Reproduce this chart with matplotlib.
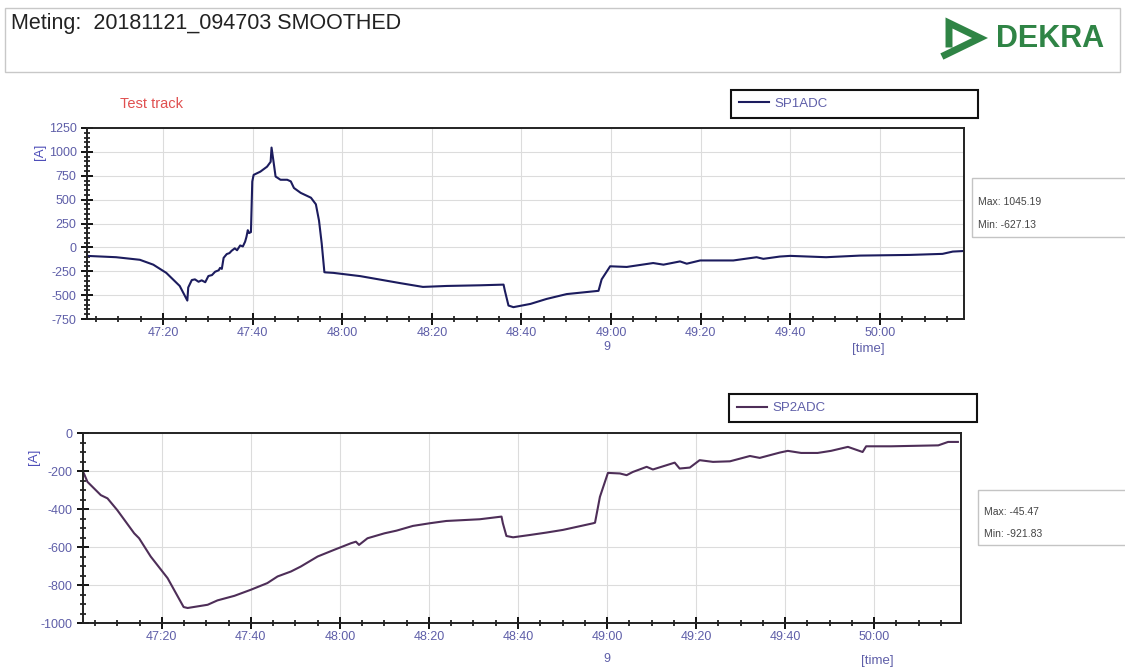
import matplotlib
matplotlib.use("Agg")
import matplotlib.pyplot as plt
from matplotlib.patches import Rectangle
from matplotlib.lines import Line2D
from matplotlib.ticker import MultipleLocator, FuncFormatter

plt.rcParams['font.family'] = ['Liberation Sans', 'DejaVu Sans']
plt.rcParams['axes.unicode_minus'] = False

# time in seconds after 47:00
t_sp1 = [2.9, 9.5, 14.8, 17.8, 20.7, 23.7, 25.4, 25.6, 26.4, 27.1,
         27.9, 28.6, 29.4, 30.1, 30.9, 31.6, 32.4, 32.7, 33.1, 33.5,
         34.2, 34.8, 35.3, 36.0, 36.5, 37.2, 37.8, 38.3, 38.6, 38.9,
         39.2, 39.6, 39.9, 40.2, 41.7, 43.2, 44.0, 44.2, 44.6, 45.1,
         46.2, 47.7, 48.5, 49.2, 50.7, 53.0, 54.1, 54.8, 55.4, 56.0,
         56.3, 58.0, 64.0, 73.0, 78.0, 83.3, 90.8, 96.0, 96.3, 97.1,
         98.2, 102.0, 105.6, 110.1, 117.2, 117.9, 119.8, 123.5, 129.4, 131.7,
         135.4, 136.9, 139.9, 147.3, 152.5, 154.0, 157.7, 160.0, 168.0, 175.6,
         186.7, 194.0, 196.3, 198.8]
sp1 = [-89, -103, -130, -181, -267, -404, -557, -420, -342, -335,
       -360, -345, -365, -300, -290, -255, -240, -215, -225, -110,
       -70, -60, -35, -10, -30, 20, 10, 60, 110, 180,
       150, 160, 690, 759, 793, 845, 896, 1045, 913, 742,
       708, 708, 691, 622, 571, 520, 451, 280, 41, -260,
       -262, -267, -301, -375, -414, -404, -397, -390, -455, -609,
       -626, -592, -540, -489, -455, -335, -198, -205, -164, -181,
       -147, -171, -137, -137, -103, -120, -96, -89, -103, -86,
       -79, -68, -44, -38]

t_sp2 = [2.5, 3.3, 6.3, 7.8, 10.0, 13.8, 14.9, 17.5, 21.3, 24.9,
         25.8, 30.3, 32.5, 36.3, 40.0, 43.7, 46.0, 49.0, 51.2, 55.0,
         58.7, 62.5, 63.6, 64.3, 66.2, 70.0, 72.7, 76.4, 80.2, 83.9,
         91.4, 96.3, 96.6, 97.4, 98.9, 102.6, 106.4, 110.1, 116.9, 117.3,
         118.4, 120.2, 122.9, 124.4, 125.8, 128.9, 130.3, 133.3, 135.2, 136.3,
         138.6, 140.8, 143.8, 147.6, 152.1, 154.3, 158.8, 160.6, 163.6, 167.3,
         170.3, 174.1, 176.3, 177.4, 178.2, 183.8, 194.4, 196.6, 198.8]
sp2 = [-213, -257, -327, -344, -406, -528, -554, -650, -764, -916,
       -921, -904, -881, -857, -825, -790, -755, -729, -703, -650,
       -615, -580, -572, -589, -554, -528, -514, -489, -475, -463,
       -454, -440, -475, -542, -549, -537, -524, -510, -475, -472,
       -336, -210, -213, -222, -205, -178, -192, -170, -156, -187,
       -182, -143, -152, -149, -121, -131, -103, -94, -105, -105,
       -94, -73, -91, -100, -70, -70, -65, -47, -47]

y1_range = (-750, 1250)
y2_range = (-1000, 0)
stats1 = ("Max: 1045.19", "Min: -627.13")
stats2 = ("Max: -45.47", "Min: -921.83")

W, H = 1125, 670
T0 = 47 * 60
LABEL_COLOR = '#5e5ea8'


def fx(x):
    return x / W


def fy(y):
    return 1 - y / H


def mmss(v, pos=None):
    v = int(round(v))
    return f"{v // 60}:{v % 60:02d}"


def style_axes(ax, xlim, ylim, ymajor):
    ax.set_xlim(*xlim)
    ax.set_ylim(*ylim)
    ax.xaxis.set_major_locator(MultipleLocator(20))
    ax.xaxis.set_minor_locator(MultipleLocator(5))
    ax.xaxis.set_major_formatter(FuncFormatter(mmss))
    ax.yaxis.set_major_locator(MultipleLocator(ymajor))
    ax.yaxis.set_minor_locator(MultipleLocator(50))
    ax.grid(True, which='major', color='#dcdcdc', linewidth=0.8)
    ax.tick_params(which='major', direction='inout', length=9, width=1.3,
                   labelsize=9, labelcolor=LABEL_COLOR, pad=3)
    ax.tick_params(which='minor', direction='inout', length=5, width=1.1)
    ax.tick_params(axis='x', which='major', pad=1)
    for s in ax.spines.values():
        s.set_linewidth(1.4)
        s.set_color('#222222')


fig = plt.figure(figsize=(W / 100, H / 100), dpi=100)

# header
fig.add_artist(Rectangle((fx(5), fy(72)), fx(1115), 64 / H, transform=fig.transFigure,
                         fill=False, edgecolor='#c8c8c8', linewidth=1))
fig.text(fx(11), fy(23), "Meting:  20181121_094703 SMOOTHED", fontsize=15.5,
         color='#222222', va='center', ha='left')
green = '#2f8445'
fig.add_artist(Line2D([fx(949), fx(949), fx(980), fx(945)],
                      [fy(44), fy(23), fy(38), fy(55)], transform=fig.transFigure,
                      color=green, linewidth=5, solid_joinstyle='miter'))
fig.text(fx(996), fy(39), "DEKRA", fontsize=22, fontweight='bold', color=green,
         va='center', ha='left')

# top chart
ax1 = fig.add_axes([fx(87), fy(319), fx(964 - 87), 191 / H])
x1 = [T0 + t for t in t_sp1]
ax1.plot(x1, sp1, color='#1c1c5e', linewidth=1.5, label='SP1ADC')
style_axes(ax1, (T0 + 3.0, T0 + 198.8), y1_range, 250)

# bottom chart
ax2 = fig.add_axes([fx(83), fy(623), fx(961 - 83), 190 / H])
x2 = [T0 + t for t in t_sp2]
ax2.plot(x2, sp2, color='#4e2e58', linewidth=1.5, label='SP2ADC')
style_axes(ax2, (T0 + 2.3, T0 + 199.5), y2_range, 200)

for ax, (lx0, ly0, lx1, ly1) in ((ax1, (731, 88, 978, 120)), (ax2, (729, 392, 977, 424))):
    leg = ax.legend(loc='center left', bbox_to_anchor=(fx(lx0), fy(ly1), fx(lx1 - lx0), (ly1 - ly0) / H),
                    bbox_transform=fig.transFigure, mode='expand', borderaxespad=0,
                    fancybox=False, framealpha=1, edgecolor='#111111', fontsize=9.5,
                    handlelength=2.3, handletextpad=0.4, borderpad=0.6, labelcolor=LABEL_COLOR)
    leg.get_frame().set_linewidth(1.5)

fig.text(fx(120), fy(104), "Test track", fontsize=10.5, color='#e05050', va='center')

for ylab, xlab in ((152, 40), (457, 34)):
    fig.text(fx(xlab), fy(ylab), "[A]", fontsize=9.5, color='#4d4db8', rotation=90,
             va='center', ha='center')

for y9, xt, yt in ((347, 868, 349), (659, 877, 661)):
    fig.text(fx(607), fy(y9), "9", fontsize=9, color=LABEL_COLOR, ha='center', va='center')
    fig.text(fx(xt), fy(yt), "[time]", fontsize=9.5, color=LABEL_COLOR, ha='center', va='center')

# max/min boxes
for (bx0, by0, by1), (mx, mn) in (((972, 178, 237), stats1), ((978, 490, 545), stats2)):
    fig.add_artist(Rectangle((fx(bx0), fy(by1)), fx(W - bx0 + 5), (by1 - by0) / H,
                             transform=fig.transFigure, fill=False,
                             edgecolor='#c4c4c4', linewidth=1))
    h = by1 - by0
    fig.text(fx(bx0 + 6), fy(by0 + h * 0.40), mx, fontsize=7.5, color='#444444', va='center')
    fig.text(fx(bx0 + 6), fy(by0 + h * 0.80), mn, fontsize=7.5, color='#444444', va='center')

fig.savefig("out.png", dpi=100)
